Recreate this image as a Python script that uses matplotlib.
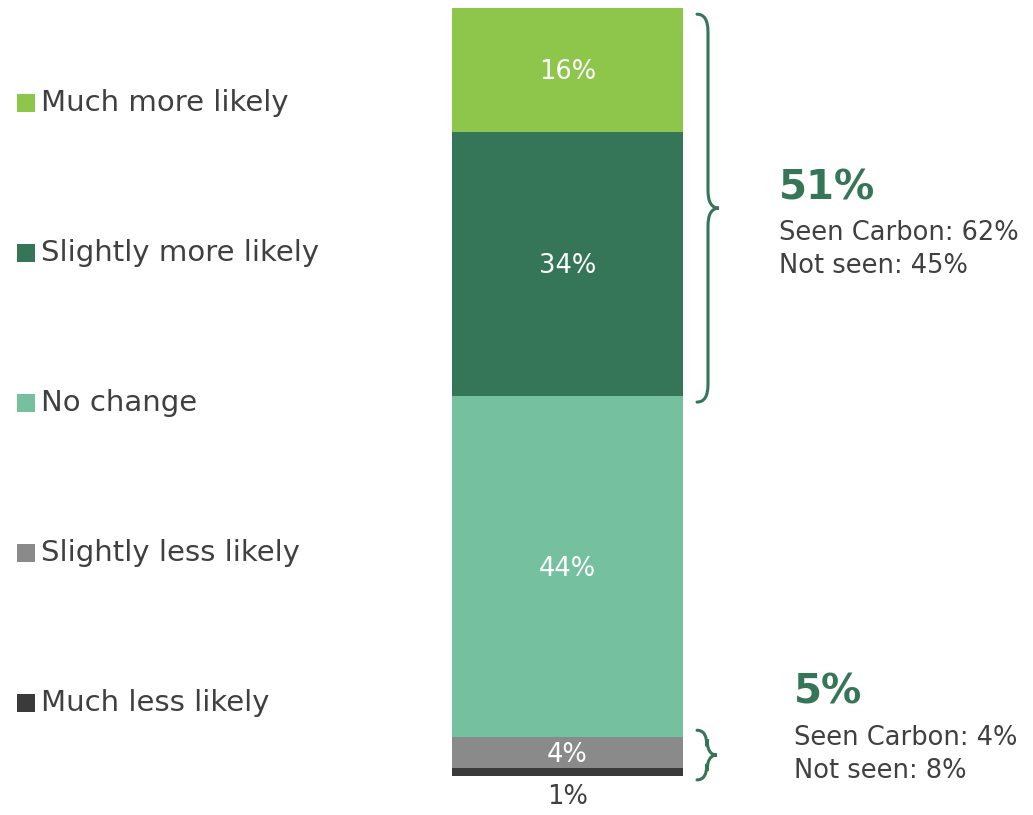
import matplotlib
matplotlib.use("Agg")
import matplotlib.pyplot as plt
from matplotlib.path import Path
from matplotlib.patches import PathPatch

# Share of respondents per answer, stacked bottom to top
categories = ["Much less likely", "Slightly less likely", "No change",
              "Slightly more likely", "Much more likely"]
values = [1, 4, 44, 34, 16]
colors = ["#3a3a3a", "#8a8a8a", "#75c09f", "#357658", "#8dc64b"]
label_colors = ["#404040", "white", "white", "white", "white"]

# Net scores shown next to the braces
net_more = 51
net_more_split = ["Seen Carbon: 62%", "Not seen: 45%"]
net_less = 5
net_less_split = ["Seen Carbon: 4%", "Not seen: 8%"]

GREEN = "#357658"
TEXT = "#404040"
FONT = "DejaVu Sans"

W, H = 1033, 815
BAR_BOTTOM, BAR_TOP = 776, 8          # pixel rows of the bar ends
total = sum(values)
scale = (BAR_BOTTOM - BAR_TOP) / total  # pixels per percentage point


def py(p):
    """pixel row -> data y (percent units)"""
    return (BAR_BOTTOM - p) / scale


fig = plt.figure(figsize=(W / 100, H / 100), dpi=100)
ax = fig.add_axes([0, 0, 1, 1])
ax.set_xlim(0, W)
ax.set_ylim(py(H), py(0))
ax.axis("off")

# Stacked bar
bar_x, bar_w = 567.5, 231
bottom = 0
for val, col, lc in zip(values, colors, label_colors):
    ax.bar(bar_x, val, width=bar_w, bottom=bottom, color=col, linewidth=0)
    if val >= 2:
        ax.text(bar_x, bottom + val / 2 - 0.3, f"{val}%", color=lc, fontsize=18.5,
                ha="center", va="center", family=FONT)
    else:
        ax.text(bar_x, bottom - 1.0, f"{val}%", color=lc, fontsize=18.5,
                ha="center", va="top", family=FONT)
    bottom += val

# Legend down the left side
legend_rows = [103, 253, 403, 553, 703]
for name, col, row in zip(categories[::-1], colors[::-1], legend_rows):
    ax.plot(25.5, py(row), marker="s", markersize=12.5, color=col,
            linestyle="none", markeredgewidth=0)
    ax.text(41, py(row), name, fontsize=21, color=TEXT, ha="left",
            va="center", family=FONT)


def brace(x, y0, y1, width):
    """right-facing curly brace from y0 to y1 (data units) at x pixels"""
    r = width / 2
    ry = r * 1.6 / scale
    ym = (y0 + y1) / 2
    verts = [
        (x, y1),
        (x + r, y1), (x + r, y1 - ry),
        (x + r, ym + ry),
        (x + r, ym), (x + width, ym),
        (x + r, ym), (x + r, ym - ry),
        (x + r, y0 + ry),
        (x + r, y0), (x, y0),
    ]
    codes = [Path.MOVETO,
             Path.CURVE3, Path.CURVE3,
             Path.LINETO,
             Path.CURVE3, Path.CURVE3,
             Path.CURVE3, Path.CURVE3,
             Path.LINETO,
             Path.CURVE3, Path.CURVE3]
    ax.add_patch(PathPatch(Path(verts, codes), fill=False, edgecolor=GREEN,
                           linewidth=2.2, capstyle="round"))


top_group = values[3] + values[4]
low_group = values[0] + values[1]
brace(697, total - top_group - 0.8, total - 0.8, 22)
brace(697, -0.5, low_group + 0.9, 20)

# Net score annotations
ax.text(779, py(188), f"{net_more}%", fontsize=29, fontweight="bold",
        color=GREEN, ha="left", va="center", family=FONT)
for i, s in enumerate(net_more_split):
    ax.text(779, py(233 + 33 * i), s, fontsize=18.5, color=TEXT, ha="left",
            va="center", family=FONT)

ax.text(794, py(692), f"{net_less}%", fontsize=29, fontweight="bold",
        color=GREEN, ha="left", va="center", family=FONT)
for i, s in enumerate(net_less_split):
    ax.text(794, py(738 + 33 * i), s, fontsize=18.5, color=TEXT, ha="left",
            va="center", family=FONT)

fig.savefig("out.png", dpi=100, facecolor="white")
